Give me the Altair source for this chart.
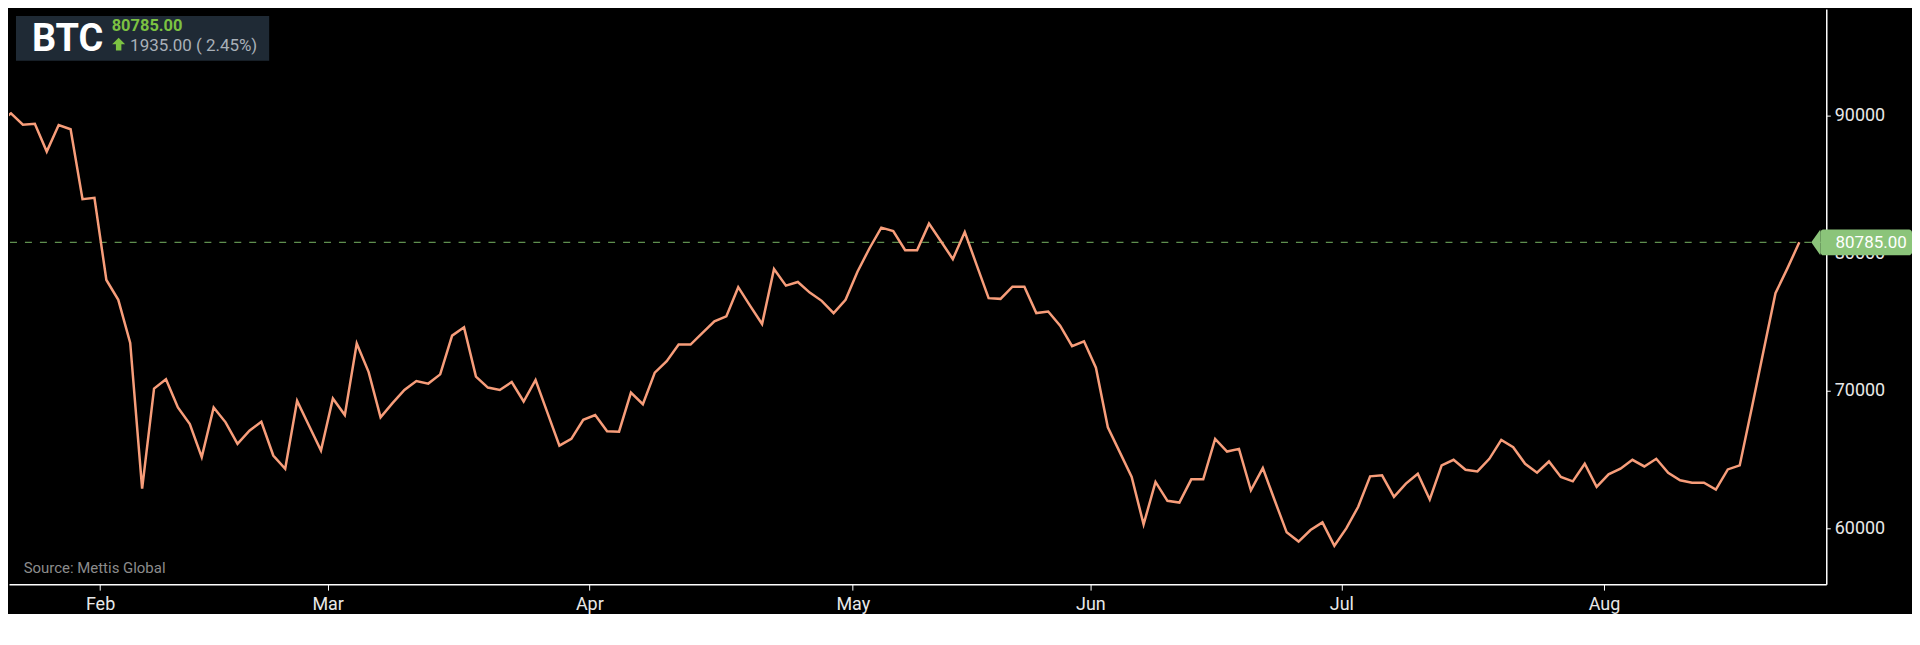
import altair as alt
import pandas as pd

# ---- data ----
symbol = "BTC"
last_price = 80785.00
change = 1935.00
change_pct = 2.45
source_text = "Source: Mettis Global"

prices = [
    89490, 90159, 89336, 89408, 87386, 89314, 89003, 83921, 84022, 78051,
    76606, 73480, 62888, 70159, 70830, 68787, 67581, 65177, 68787, 67704,
    66137, 67098, 67748, 65292, 64332, 69263, 67458, 65653, 69436, 68231,
    73430, 71357, 68065, 69097, 70058, 70708, 70520, 71191, 74007, 74608,
    71025, 70231, 70058, 70636, 69220, 70780, 68397, 66015, 66498, 67892,
    68231, 67055, 67025, 69870, 69025, 71314, 72152, 73357, 73357, 74200,
    75043, 75404, 77527, 76173, 74850, 78845, 77639, 77906, 77134, 76534,
    75643, 76606, 78650, 80339, 81855, 81610, 80217, 80217, 82144, 80866,
    79567, 81538, 79134, 76729, 76679, 77567, 77567, 75646, 75762, 74729,
    73235, 73596, 71675, 67343, 65538, 63733, 60289, 63372, 62000, 61877,
    63560, 63560, 66498, 65581, 65776, 62767, 64383, 62022, 59711, 59040,
    59877, 60433, 58730, 59999, 61567, 63778, 63850, 62286, 63249, 63971,
    62094, 64574, 64982, 64260, 64140, 65054, 66426, 65896, 64693, 64043,
    64860, 63730, 63415, 64693, 63010, 63921, 64332, 64982, 64500, 65054,
    64043, 63490, 63321, 63321, 62816, 64283, 64574, 68700, 72900, 77090,
    78895, 80785,
]

month_names = ["Feb", "Mar", "Apr", "May", "Jun", "Jul", "Aug"]
month_pos = [8.47, 27.56, 49.51, 71.61, 91.54, 112.59, 134.61]
y_ticks = [60000, 70000, 80000, 90000]

# ---- layout ----
W, H = 1823, 577
x_domain = [0.833, 153.26]
y_domain = [55945, 97748]

LINE = "#f79d7a"
TAG = "#8bc47a"
DASH = "#5f8f4f"

df = pd.DataFrame({"i": list(range(len(prices))), "price": prices})
last = df.tail(1)
hdr = pd.DataFrame({
    "sym": [symbol],
    "px": [f"{last_price:.2f}"],
    "chg": [f"{change:.2f} ( {change_pct:.2f}%)"],
    "src": [source_text],
})

label_expr = "".join(
    f"datum.value == {p} ? '{n}' : " for p, n in zip(month_pos, month_names)
) + "''"

xs = alt.Scale(domain=x_domain, nice=False, zero=False)
ys = alt.Scale(domain=y_domain, nice=False, zero=False)

x_axis = alt.Axis(
    values=month_pos, labelExpr=label_expr, title=None, orient="bottom",
    grid=False, domainColor="#ffffff", domainWidth=1.5, tickColor="#ffffff",
    tickSize=6, tickWidth=1, labelColor="#e8e8e8", labelFont="Roboto",
    labelFontSize=18, labelPadding=5, labelFlush=False, labelOverlap=False,
)
y_axis = alt.Axis(
    values=y_ticks, format="d", title=None, orient="right", grid=False,
    domainColor="#ffffff", domainWidth=1.5, tickColor="#ffffff", tickSize=4,
    labelColor="#e8e8e8", labelFont="Roboto", labelFontSize=18, labelPadding=4,
)

rule = alt.Chart(last).mark_rule(color=DASH, strokeDash=[7, 8], strokeWidth=1.2).encode(
    y=alt.Y("price:Q", scale=ys, axis=y_axis)
)

line = alt.Chart(df).mark_line(color=LINE, strokeWidth=2.5, clip=True).encode(
    x=alt.X("i:Q", scale=xs, axis=x_axis),
    y=alt.Y("price:Q", scale=ys, axis=y_axis),
)

tag_box = alt.Chart(last).mark_rect(color=TAG, cornerRadius=3, yOffset=-13, y2Offset=13).encode(
    x=alt.value(W - 6), x2=alt.value(W + 86),
    y=alt.Y("price:Q", scale=ys), y2="price:Q",
)
tag_arrow = alt.Chart(last).mark_point(
    shape="M 0.35 -1 L -0.35 0 L 0.35 1 Z", filled=True, size=676,
    color=TAG, opacity=1, strokeWidth=0,
).encode(x=alt.value(W - 10.5), y=alt.Y("price:Q", scale=ys))
tag_text = alt.Chart(last).mark_text(
    align="center", baseline="middle", font="Roboto", fontSize=17, color="#ffffff", dy=1,
).encode(x=alt.value(W + 45), y=alt.Y("price:Q", scale=ys), text=alt.Text("price:Q", format=".2f"))

head_box = alt.Chart(hdr).mark_rect(color="#1f2a35").encode(
    x=alt.value(7), x2=alt.value(261), y=alt.value(7), y2=alt.value(52)
)
head_sym = alt.Chart(hdr).mark_text(
    align="left", baseline="alphabetic", font="Roboto", fontWeight="bold",
    fontSize=38, color="#ffffff",
).encode(x=alt.value(23), y=alt.value(42), text="sym:N")
head_px = alt.Chart(hdr).mark_text(
    align="left", baseline="alphabetic", font="Roboto", fontWeight="bold",
    fontSize=16.5, color="#7cc242",
).encode(x=alt.value(103), y=alt.value(22), text="px:N")
head_arrow = alt.Chart(hdr).mark_point(
    shape="M 0 -1 L 1 0 L 0.42 0 L 0.42 1 L -0.42 1 L -0.42 0 L -1 0 Z",
    filled=True, size=169, color="#7cc242", opacity=1, strokeWidth=0,
).encode(x=alt.value(110), y=alt.value(35.3))
head_chg = alt.Chart(hdr).mark_text(
    align="left", baseline="alphabetic", font="Roboto", fontSize=17, color="#a9b0b8",
).encode(x=alt.value(121.5), y=alt.value(42), text="chg:N")
src = alt.Chart(hdr).mark_text(
    align="left", baseline="alphabetic", font="Roboto", fontSize=15, color="#8c8c8c",
).encode(x=alt.value(14.7), y=alt.value(566.3), text="src:N")

chart = alt.layer(
    rule, line, tag_box, tag_arrow, tag_text,
    head_box, head_sym, head_px, head_arrow, head_chg, src,
).properties(
    width=W, height=H, padding=0, background="#000000"
).configure_view(stroke=None)

chart.save("out.html", embed_options={"renderer": "svg", "actions": False})
